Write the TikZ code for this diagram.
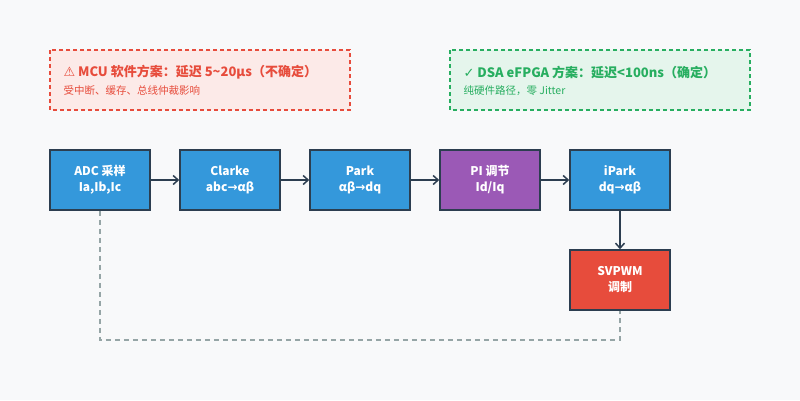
\documentclass[tikz,border=0pt]{standalone}
\usepackage{fontspec}
\setmainfont{Noto Sans CJK SC}
\newfontfamily\sym{DejaVu Sans}
\usetikzlibrary{arrows.meta}
\definecolor{bg}{HTML}{F8F9FA}
\definecolor{bl}{HTML}{3498DB}
\definecolor{dk}{HTML}{2C3E50}
\definecolor{pu}{HTML}{9B59B6}
\definecolor{rd}{HTML}{E74C3C}
\definecolor{gr}{HTML}{27AE60}
\definecolor{gy}{HTML}{95A5A6}
\begin{document}
\begin{tikzpicture}[x=1pt,y=-1pt,
 blk/.style={draw=dk,line width=1.5pt,minimum width=100pt,minimum height=60pt,inner sep=0pt,align=center,text=white,font=\fontsize{12}{16}\selectfont\bfseries},
 arr/.style={draw=dk,line width=1.5pt,-{Straight Barb[length=5pt,width=9pt]}},
 note/.style={dashed,line width=1.5pt,dash pattern=on 4pt off 3pt}]
\useasboundingbox[fill=bg] (0,0) rectangle (800,400);
\draw[note,draw=rd,fill=rd!12] (50,50) rectangle (350,110);
\node[anchor=west,text=rd,font=\fontsize{13}{16}\selectfont\bfseries] (t1) at (60,72) {{\sym ⚠} MCU 软件方案：延迟 5\textasciitilde20μs（不确定）};
\node[anchor=west,text=rd,font=\fontsize{10.5}{13}\selectfont] (s1) at (60,91) {受中断、缓存、总线仲裁影响};
\draw[note,draw=gr,fill=gr!12] (450,50) rectangle (750,110);
\node[anchor=west,text=gr,font=\fontsize{13}{16}\selectfont\bfseries] (t2) at (460,72) {{\sym ✓} DSA eFPGA 方案：延迟<100ns（确定）};
\node[anchor=west,text=gr,font=\fontsize{10.5}{13}\selectfont] (s2) at (460,91) {纯硬件路径，零 Jitter};
\node[blk,fill=bl] (adc) at (100,180) {ADC 采样\\Ia,Ib,Ic};
\node[blk,fill=bl] (clk) at (230,180) {Clarke\\abc{\sym →}αβ};
\node[blk,fill=bl] (prk) at (360,180) {Park\\αβ{\sym →}dq};
\node[blk,fill=pu] (pi) at (490,180) {PI 调节\\Id/Iq};
\node[blk,fill=bl] (ipk) at (620,180) {iPark\\dq{\sym →}αβ};
\node[blk,fill=rd] (svp) at (620,280) {SVPWM\\调制};
\draw[arr] (adc) -- (clk);
\draw[arr] (clk) -- (prk);
\draw[arr] (prk) -- (pi);
\draw[arr] (pi) -- (ipk);
\draw[arr] (ipk) -- (svp);
\draw[gy,line width=1.5pt,dash pattern=on 5pt off 4pt] (adc.south) -- (100,340) -- (620,340) -- (svp.south);
\end{tikzpicture}
\end{document}
